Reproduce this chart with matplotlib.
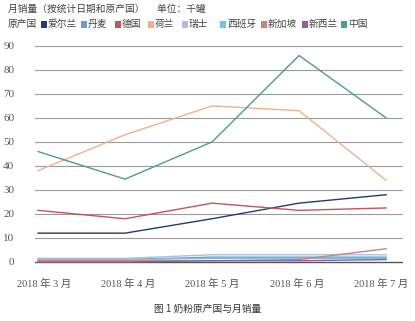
import matplotlib.pyplot as plt
from matplotlib.patches import Rectangle
import numpy as np

plt.rcParams['font.family'] = ['Liberation Serif', 'Noto Sans CJK SC', 'DejaVu Sans']

# 数据
months = ['2018 年 3 月', '2018 年 4 月', '2018 年 5 月', '2018 年 6 月', '2018 年 7 月']
countries = ['爱尔兰', '丹麦', '德国', '荷兰', '瑞士', '西班牙', '新加坡', '新西兰', '中国']
colors = ['#1f3d6e', '#6e9cc8', '#c2555b', '#f3b088', '#adc0d8', '#6cc6ea', '#c98479', '#985c9c', '#4f9a94']

ireland = [12, 12, 18, 24.5, 28]
denmark = [1, 1, 2, 2, 2]
germany = [21.5, 18, 24.5, 21.5, 22.5]
netherlands = [38, 53, 65, 63, 34]
switzerland = [1.5, 1.5, 3, 3, 3]
spain = [1, 1, 1.5, 1.5, 1.5]
singapore = [0.5, 0.5, 0.5, 1, 5.5]
new_zealand = [0, 0, 0.5, 0.5, 1]
china = [46, 34.5, 50, 86, 60]

series = [ireland, denmark, germany, netherlands, switzerland, spain, singapore, new_zealand, china]

fig = plt.figure(figsize=(4.15, 3.21), dpi=100)
ax = fig.add_axes([0.0843, 0.169, 0.887, 0.703])

x = np.arange(len(months))
for vals, c, name in zip(series, colors, countries):
    ax.plot(x, vals, color=c, linewidth=1.0, label=name, zorder=3)

ax.set_xlim(-0.035, 4.195)
ax.set_ylim(-2, 92)
ax.set_yticks(np.arange(0, 91, 10))
# 横轴标签排得比数据点略紧一些
ax.set_xticks(0.07 + x * (3.87 / 4))
ax.set_xticklabels(months, fontsize=7.5, color='#555555')
for t in ax.get_yticklabels():
    t.set_fontsize(8)
    t.set_color('#555555')
ax.tick_params(axis='both', length=0)
ax.tick_params(axis='y', pad=15)
ax.tick_params(axis='x', pad=9)
for s in ax.spines.values():
    s.set_visible(False)
for yv in range(10, 91, 10):
    ax.axhline(yv, color='#9a9a9a', linewidth=0.8, zorder=1)
ax.axhline(0, color='#555555', linewidth=1.0, zorder=2)

# 标题和图例
fig.text(8 / 415, 1 - 9 / 321, '月销量（按统计日期和原产国）     单位：千罐',
         fontsize=7, color='#444444', va='center', ha='left')
fig.text(8 / 415, 1 - 24 / 321, '原产国', fontsize=7, color='#444444', va='center', ha='left')
leg_x = [41, 81, 115, 148, 182, 220, 261, 302, 341]
for px, c, name in zip(leg_x, colors, countries):
    fig.patches.append(Rectangle((px / 415, 1 - 27.5 / 321), 6 / 415, 7 / 321,
                                 transform=fig.transFigure, facecolor=c, edgecolor='none'))
    fig.text((px + 7) / 415, 1 - 24 / 321, name, fontsize=7, color='#444444',
             va='center', ha='left')

fig.text(0.5, 1 - 309 / 321, '图 1 奶粉原产国与月销量', fontsize=7, color='#333333',
         ha='center', va='center', family=['Noto Sans CJK SC', 'DejaVu Sans'])

plt.savefig('out.png', dpi=100, facecolor='white')
plt.close()
